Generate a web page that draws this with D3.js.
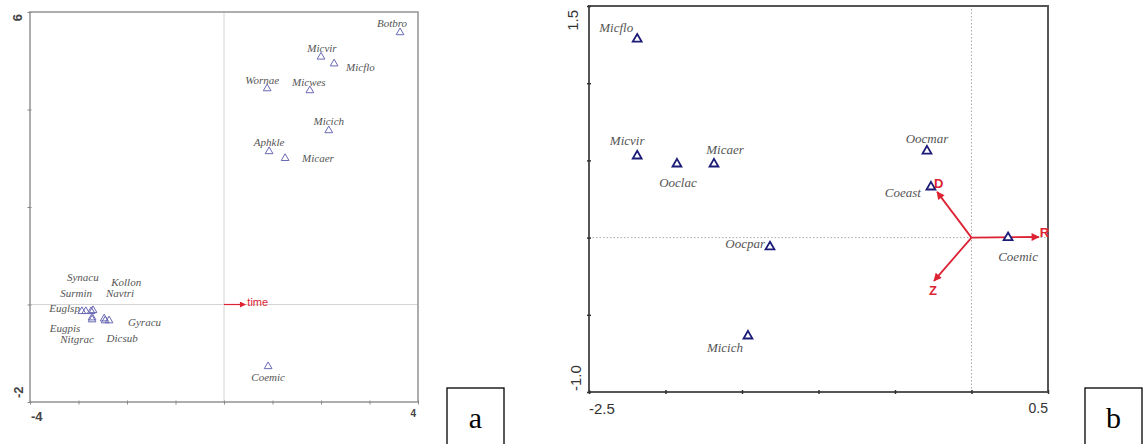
<!DOCTYPE html>
<html lang="en">
<head>
  <meta charset="UTF-8">
  <title>Ordination biplots a and b</title>
  <script src="https://d3js.org/d3.v7.min.js"></script>
  <style>
    body { margin: 0; background: #fff; }
    svg { display: block; }
    .sp { font-family: "Liberation Serif", "DejaVu Serif", serif; font-style: italic; fill: #555; }
  </style>
</head>
<body>
  <svg width="1143" height="444"></svg>

  <script>
    // ---- panel a data (species scores + time vector) ----
    const aSpecies = ["Botbro", "Micvir", "Micflo", "Wornae", "Micwes", "Micich", "Aphkle", "Micaer", "Coemic",
                      "Synacu", "Kollon", "Surmin", "Navtri", "Euglsp", "Gyracu", "Eugpis", "Nitgrac", "Dicsub"];
    const aX = [3.63, 2.0, 2.27, 0.89, 1.77, 2.16, 0.93, 1.26, 0.91,
                -2.85, -2.47, -2.74, -2.70, -2.93, -2.37, -2.72, -2.72, -2.45];
    const aY = [5.58, 5.08, 4.94, 4.43, 4.39, 3.57, 3.14, 3.0, -1.27,
                -0.14, -0.29, -0.14, -0.12, -0.14, -0.33, -0.31, -0.27, -0.33];
    const aVectors = ["time"];
    const aVecX = [0.44];
    const aVecY = [0];
    const aXTicks = [-4, -3, -2, -1, 0, 1, 2, 3, 4];
    const aYTicks = [-2, 0, 2, 4, 6];
    const aXTickLabels = ["-4", "4"];
    const aYTickLabels = ["-2", "6"];

    // ---- panel b data ----
    const bSpecies = ["Micflo", "Micvir", "Ooclac", "Micaer", "Oocmar", "Coeast", "Coemic", "Oocpar", "Micich"];
    const bX = [-2.185, -2.185, -1.925, -1.683, -0.291, -0.265, 0.239, -1.317, -1.461];
    const bY = [1.286, 0.529, 0.477, 0.477, 0.561, 0.328, 0.0, -0.06, -0.637];
    const bVectors = ["R", "D", "Z"];
    const bVecX = [0.44, -0.225, -0.245];
    const bVecY = [0.004, 0.296, -0.28];
    const bXTicks = [-2.5, -2.0, -1.5, -1.0, -0.5, 0, 0.5];
    const bYTicks = [-1.0, -0.5, 0, 0.5, 1.0, 1.5];
    const bXTickLabels = ["-2.5", "0.5"];
    const bYTickLabels = ["-1.0", "1.5"];

    // label placement (pixel offsets from the point: dx, dy, anchor)
    const aLabelPos = {
      Botbro: [-8, -5, "middle"], Micvir: [1, -5, "middle"], Micflo: [12, 7, "start"],
      Wornae: [-5, -5, "middle"], Micwes: [-1, -4, "middle"], Micich: [0, -5, "middle"],
      Aphkle: [0, -5, "middle"], Micaer: [17, 4, "start"], Coemic: [0, 15, "middle"],
      Synacu: [-3, -30, "middle"], Kollon: [22, -33, "middle"], Surmin: [-15, -14, "middle"],
      Navtri: [27, -13, "middle"], Euglsp: [-2, 1, "end"], Gyracu: [19, 5, "start"],
      Eugpis: [-27, 12, "middle"], Nitgrac: [-15, 25, "middle"], Dicsub: [17, 21, "middle"]
    };
    const bLabelPos = {
      Micflo: [-21, -7, "middle"], Micvir: [-10, -11, "middle"], Ooclac: [1, 23, "middle"],
      Micaer: [11, -10, "middle"], Oocmar: [0, -8, "middle"], Coeast: [-10, 10, "end"],
      Coemic: [10, 23, "middle"], Oocpar: [-5, 1, "end"], Micich: [-23, 16, "middle"]
    };
    const bVecLabelPos = { R: [1, 0], D: [-3, -4], Z: [-5, 14] };

    const svg = d3.select("svg");
    const red = "#dd2233";
    const sans = "Liberation Sans, Arial, sans-serif";

    const defs = svg.append("defs");
    function marker(id, w, h) {
      defs.append("marker")
        .attr("id", id)
        .attr("viewBox", "0 0 10 10")
        .attr("refX", 9).attr("refY", 5)
        .attr("markerUnits", "userSpaceOnUse")
        .attr("markerWidth", w).attr("markerHeight", h)
        .attr("orient", "auto")
        .append("path")
        .attr("d", "M0,0L10,5L0,10z")
        .attr("fill", red);
    }
    marker("headA", 9, 6);
    marker("headB", 11, 8);

    // ================= panel a =================
    const ax = d3.scaleLinear().domain([-4, 4]).range([30, 418]);
    const ay = d3.scaleLinear().domain([-2, 6]).range([402, 12]);
    const ga = svg.append("g");

    ga.append("line")
      .attr("x1", ax(0)).attr("x2", ax(0)).attr("y1", ay(-2)).attr("y2", ay(6))
      .attr("stroke", "#d4d4d4").attr("stroke-width", 1);
    ga.append("line")
      .attr("x1", ax(-4)).attr("x2", ax(4)).attr("y1", ay(0)).attr("y2", ay(0))
      .attr("stroke", "#d4d4d4").attr("stroke-width", 1);

    ga.append("rect")
      .attr("x", ax(-4)).attr("y", ay(6))
      .attr("width", ax(4) - ax(-4)).attr("height", ay(-2) - ay(6))
      .attr("fill", "none").attr("stroke", "#999").attr("stroke-width", 1.6);

    const axA = ga.append("g").attr("transform", `translate(0,${ay(-2)})`)
      .call(d3.axisBottom(ax).tickValues(aXTicks).tickSize(4).tickFormat(""));
    const ayA = ga.append("g").attr("transform", `translate(${ax(-4)},0)`)
      .call(d3.axisLeft(ay).tickValues(aYTicks).tickSize(4).tickFormat(""));
    [axA, ayA].forEach(g => {
      g.select(".domain").remove();
      g.selectAll(".tick line").attr("stroke", "#888");
    });
    axA.selectAll(".tick line").attr("y1", -1.5).attr("y2", 2.5);
    ayA.selectAll(".tick line").attr("x1", 1.5).attr("x2", -2.5);

    function tickText(g, txt, x, y, size, anchor, rot) {
      g.append("text").text(txt)
        .attr("transform", `translate(${x},${y})` + (rot ? " rotate(-90)" : ""))
        .attr("text-anchor", anchor)
        .attr("font-family", sans).attr("font-size", size)
        .attr("font-weight", g === ga ? "bold" : "normal")
        .attr("fill", g === ga ? "#444" : "#333");
    }
    tickText(ga, aXTickLabels[0], ax(-4) + 1, ay(-2) + 19, 13, "start", false);
    tickText(ga, aXTickLabels[1], ax(4) - 2, ay(-2) + 15, 10, "end", false);
    tickText(ga, aYTickLabels[0], ax(-4) - 7, ay(-2) - 4, 13, "start", true);
    tickText(ga, aYTickLabels[1], ax(-4) - 8, ay(6) + 2, 13, "end", true);

    // time vector
    aVectors.forEach((name, i) => {
      ga.append("line")
        .attr("x1", ax(0)).attr("y1", ay(0)).attr("x2", ax(aVecX[i])).attr("y2", ay(aVecY[i]))
        .attr("stroke", red).attr("stroke-width", 1.2)
        .attr("marker-end", "url(#headA)");
      ga.append("text").text(name)
        .attr("x", ax(aVecX[i]) + 2).attr("y", ay(aVecY[i]) + 1)
        .attr("font-family", sans).attr("font-size", 11)
        .attr("fill", red);
    });

    const triA = d3.symbol().type(d3.symbolTriangle).size(26);
    ga.selectAll(".pa").data(aSpecies).join("path")
      .attr("class", "pa")
      .attr("d", triA)
      .attr("transform", (d, i) => `translate(${ax(aX[i])},${ay(aY[i])})`)
      .attr("fill", "none").attr("stroke", "#6a6ab4").attr("stroke-width", 1);
    ga.selectAll(".la").data(aSpecies).join("text")
      .attr("class", "sp la")
      .attr("x", (d, i) => ax(aX[i]) + aLabelPos[d][0])
      .attr("y", (d, i) => ay(aY[i]) + aLabelPos[d][1])
      .attr("text-anchor", d => aLabelPos[d][2])
      .attr("font-size", 11)
      .text(d => d);

    // ================= panel b =================
    const bx = d3.scaleLinear().domain([-2.5, 0.5]).range([589, 1048]);
    const by = d3.scaleLinear().domain([-1.0, 1.5]).range([392, 6]);
    const gb = svg.append("g");

    gb.append("line")
      .attr("x1", bx(0)).attr("x2", bx(0)).attr("y1", by(-1)).attr("y2", by(1.5))
      .attr("stroke", "#aaa").attr("stroke-width", 1).attr("stroke-dasharray", "1.5,2");
    gb.append("line")
      .attr("x1", bx(-2.5)).attr("x2", bx(0.5)).attr("y1", by(0)).attr("y2", by(0))
      .attr("stroke", "#aaa").attr("stroke-width", 1).attr("stroke-dasharray", "1.5,2");

    gb.append("rect")
      .attr("x", bx(-2.5)).attr("y", by(1.5))
      .attr("width", bx(0.5) - bx(-2.5)).attr("height", by(-1) - by(1.5))
      .attr("fill", "none").attr("stroke", "#555").attr("stroke-width", 2);

    const axB = gb.append("g").attr("transform", `translate(0,${by(-1)})`)
      .call(d3.axisBottom(bx).tickValues(bXTicks).tickSize(4).tickFormat(""));
    const ayB = gb.append("g").attr("transform", `translate(${bx(-2.5)},0)`)
      .call(d3.axisLeft(by).tickValues(bYTicks).tickSize(4).tickFormat(""));
    [axB, ayB].forEach(g => {
      g.select(".domain").remove();
      g.selectAll(".tick line").attr("stroke", "#333").attr("stroke-width", 1.5);
    });
    axB.selectAll(".tick line").attr("y1", -2).attr("y2", 2);
    ayB.selectAll(".tick line").attr("x1", 2).attr("x2", -2);

    tickText(gb, bXTickLabels[0], bx(-2.5), by(-1) + 22, 15, "start", false);
    tickText(gb, bXTickLabels[1], bx(0.5), by(-1) + 21, 14, "end", false);
    tickText(gb, bYTickLabels[0], bx(-2.5) - 8, by(-1) - 1, 15, "start", true);
    tickText(gb, bYTickLabels[1], bx(-2.5) - 11, by(1.5) + 4, 15, "end", true);

    bVectors.forEach((name, i) => {
      gb.append("line")
        .attr("x1", bx(0)).attr("y1", by(0)).attr("x2", bx(bVecX[i])).attr("y2", by(bVecY[i]))
        .attr("stroke", red).attr("stroke-width", 1.8)
        .attr("marker-end", "url(#headB)");
    });

    const triB = d3.symbol().type(d3.symbolTriangle).size(34);
    gb.selectAll(".pb").data(bSpecies).join("path")
      .attr("class", "pb")
      .attr("d", triB)
      .attr("transform", (d, i) => `translate(${bx(bX[i])},${by(bY[i])})`)
      .attr("fill", "#fff").attr("stroke", "#1c1c78").attr("stroke-width", 1.8);
    gb.selectAll(".lb").data(bSpecies).join("text")
      .attr("class", "sp lb")
      .attr("x", (d, i) => bx(bX[i]) + bLabelPos[d][0])
      .attr("y", (d, i) => by(bY[i]) + bLabelPos[d][1])
      .attr("text-anchor", d => bLabelPos[d][2])
      .attr("font-size", 13)
      .text(d => d);

    bVectors.forEach((name, i) => {
      gb.append("text").text(name)
        .attr("x", bx(bVecX[i]) + bVecLabelPos[name][0])
        .attr("y", by(bVecY[i]) + bVecLabelPos[name][1])
        .attr("font-family", sans).attr("font-size", 13).attr("font-weight", "bold")
        .attr("fill", red);
    });

    // ================= panel letters =================
    const panelLetters = ["a", "b"];
    const boxX = [447, 1085];
    panelLetters.forEach((t, i) => {
      svg.append("rect")
        .attr("x", boxX[i]).attr("y", 388).attr("width", 57).attr("height", 60)
        .attr("fill", "#fff").attr("stroke", "#000").attr("stroke-width", 1.3);
      svg.append("text").text(t)
        .attr("x", boxX[i] + 28.5).attr("y", 428)
        .attr("text-anchor", "middle")
        .attr("font-family", "Liberation Serif, Times New Roman, serif")
        .attr("font-size", 30).attr("fill", "#000");
    });
  </script>
</body>
</html>
